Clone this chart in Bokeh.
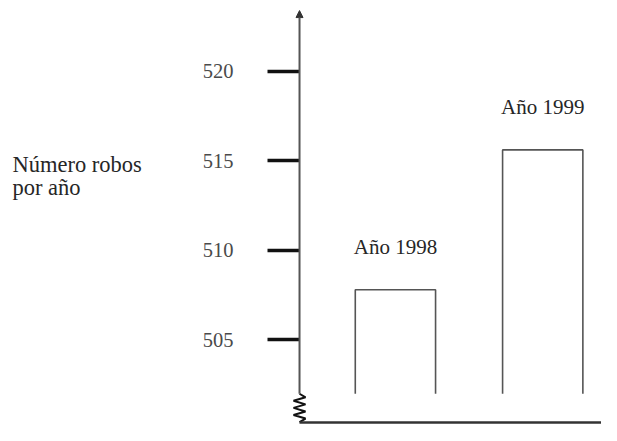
import numpy as np
from bokeh.plotting import figure
from bokeh.models import (Range1d, LinearAxis, FixedTicker, Arrow, NormalHead,
                          ColumnDataSource)
from bokeh.core.properties import value
from bokeh.embed import file_html
from bokeh.resources import INLINE

# ---- data ----
years = [1998, 1999]
robos = [507.8, 515.6]
bar_labels = ["Año 1998", "Año 1999"]
tick_values = [505, 510, 515, 520]
y_label = ["Número robos", "por año"]
axis_break = 502.0          # value where the broken axis / bars start

FONT = "Liberation Serif"

# ---- ranges (data units) ----
x0, x1 = 1995.319, 1999.399
y0, y1 = 500.229, 523.932
px_x = 601 / (x1 - x0)      # pixels per data unit (x)
px_y = 425 / (y1 - y0)      # pixels per data unit (y)

axis_x = 1997.349
axis_top = 523.37
x_axis_y = 500.42
bar_w = 0.545

p = figure(width=601, height=425, output_backend="svg", toolbar_location=None,
           x_axis_type=None, y_axis_type=None, min_border=0,
           x_range=Range1d(x0, x1), y_range=Range1d(y0, y1))
p.outline_line_color = None
p.grid.visible = False
p.background_fill_color = "white"

# vertical axis line with arrow head
p.add_layout(Arrow(x_start=axis_x, y_start=axis_break, x_end=axis_x, y_end=axis_top,
                   line_color="#555555", line_width=2,
                   end=NormalHead(size=7, fill_color="#333333", line_color="#333333",
                                  line_width=1)))

# real y axis at a fixed data location: ticks + labels
yax = LinearAxis(fixed_location=axis_x, ticker=FixedTicker(ticks=tick_values),
                 axis_line_color=None,
                 major_tick_out=32, major_tick_in=0,
                 major_tick_line_color="#111111", major_tick_line_width=3.5,
                 minor_tick_line_color=None,
                 major_label_standoff=34,
                 major_label_text_font=FONT,
                 major_label_text_font_size="20.5px",
                 major_label_text_color="#4a4a4a")
p.add_layout(yax, "left")

# x axis: plain line starting at the axis break
xax = LinearAxis(fixed_location=x_axis_y, ticker=FixedTicker(ticks=[]),
                 bounds=(axis_x, x1), axis_line_color="#333333", axis_line_width=2.5,
                 major_tick_line_color=None, minor_tick_line_color=None,
                 major_label_text_font_size="0px")
p.add_layout(xax, "below")

# zigzag break on the y axis
n_zig = 8
zy = np.linspace(axis_break, x_axis_y, n_zig + 1)
amp = 6.0 / px_x
zx = [axis_x] + [axis_x + (amp if i % 2 == 0 else -amp) for i in range(n_zig - 1)] + [axis_x]
p.line(zx, list(zy), line_color="#111111", line_width=2)

# open bars (no bottom edge)
xs = [[x - bar_w / 2, x - bar_w / 2, x + bar_w / 2, x + bar_w / 2] for x in years]
ys = [[axis_break, v, v, axis_break] for v in robos]
p.multi_line(xs, ys, line_color="#555555", line_width=1.6)

# bar labels
src = ColumnDataSource(dict(x=years, y=robos, t=bar_labels))
p.text(x="x", y="y", text="t", source=src, y_offset=-43,
       text_align="center", text_baseline="alphabetic",
       text_font=value(FONT), text_font_size="21px", text_color="#262626")

# y label (two lines)
lab_x = x0 + 12 / px_x
lab_y1 = 510 + (249.8 - 164) / px_y
lab_y2 = 510 + (249.8 - 187) / px_y
p.text(x=[lab_x, lab_x], y=[lab_y1, lab_y2], text=y_label,
       text_align="left", text_baseline="alphabetic",
       text_font=value(FONT), text_font_size="22.5px", text_color="#262626")

open("out.html", "w").write(file_html(p, INLINE))
